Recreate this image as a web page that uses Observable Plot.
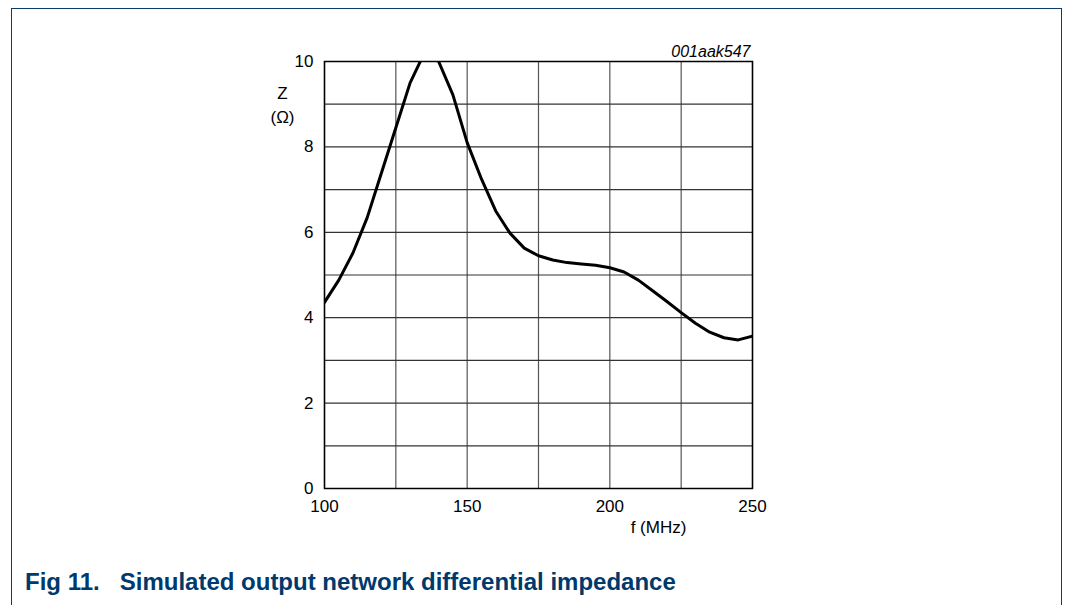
<!DOCTYPE html>
<html>
<head>
<meta charset="utf-8">
<script src="https://cdn.jsdelivr.net/npm/d3@7"></script>
<script src="https://cdn.jsdelivr.net/npm/@observablehq/plot@0.6"></script>
<style>
  html, body { margin: 0; padding: 0; background: #fff; }
  body { width: 1066px; height: 605px; position: relative; overflow: hidden; font-family: "Liberation Sans", Arial, sans-serif; }
  #box { position: absolute; left: 11px; top: 8px; width: 1051px; height: 620px; border: 1.5px solid #0b3c6e; border-bottom: none; box-sizing: border-box; }
  #chart { position: absolute; left: 0; top: 0; }
  #caption { position: absolute; left: 25px; top: 568px; font-size: 24px; line-height: 28px; font-weight: bold; color: #00396c; white-space: pre; }
</style>
</head>
<body>
<div id="box"></div>
<div id="chart"></div>
<div id="caption">Fig 11.   Simulated output network differential impedance</div>
<script>
const freq = [100, 105, 110, 115, 120, 125, 130, 135, 140, 145, 150, 155, 160, 165, 170, 175, 180, 185, 190, 195, 200, 205, 210, 215, 220, 225, 230, 235, 240, 245, 250];
const impedance = [4.36, 4.88, 5.52, 6.35, 7.4, 8.45, 9.5, 10.2, 10.0, 9.22, 8.1, 7.25, 6.5, 5.98, 5.63, 5.45, 5.35, 5.29, 5.26, 5.23, 5.17, 5.07, 4.88, 4.63, 4.38, 4.12, 3.87, 3.66, 3.53, 3.48, 3.57];
const xGrid = [100, 125, 150, 175, 200, 225, 250];
const xTicks = [100, 150, 200, 250];
const yGrid = [0, 1, 2, 3, 4, 5, 6, 7, 8, 9, 10];
const yTicks = [0, 2, 4, 6, 8, 10];
const yLabel = "Z\n(\u03A9)";
const xLabel = "f (MHz)";
const code = "001aak547";

const data = freq.map((f, i) => ({f, z: impedance[i]}));

const chart = Plot.plot({
  width: 1066,
  height: 545,
  marginLeft: 324,
  marginRight: 314,
  marginTop: 61,
  marginBottom: 57,
  style: { fontFamily: "'Liberation Sans', Arial, sans-serif", fontSize: "17px", color: "#000", background: "transparent", overflow: "visible" },
  x: { domain: [100, 250], ticks: xTicks, tickSize: 0, tickPadding: 11, label: null },
  y: { domain: [0, 10], ticks: yTicks, tickSize: 0, tickPadding: 11, label: null },
  marks: [
    Plot.ruleX(xGrid, { stroke: "#555", strokeWidth: 1.2 }),
    Plot.ruleY(yGrid, { stroke: "#333", strokeWidth: 1.2 }),
    Plot.line(data, { x: "f", y: "z", stroke: "#000", strokeWidth: 3, clip: true, strokeLinejoin: "round" }),
    Plot.frame({ stroke: "#000", strokeWidth: 1.5 }),
    Plot.text([yLabel], { text: d => d, frameAnchor: "top-left", dx: -42, dy: 21, textAnchor: "middle", lineAnchor: "top", lineHeight: 1.4, fontSize: 17 }),
    Plot.text([xLabel], { text: d => d, frameAnchor: "bottom-left", dx: 334, dy: 32, textAnchor: "middle", lineAnchor: "top", fontSize: 17 }),
    Plot.text([code], { text: d => d, frameAnchor: "top-right", dx: -2, dy: -5, textAnchor: "end", lineAnchor: "bottom", fontSize: 16, fontStyle: "italic" })
  ]
});
document.getElementById("chart").appendChild(chart);
</script>
</body>
</html>
